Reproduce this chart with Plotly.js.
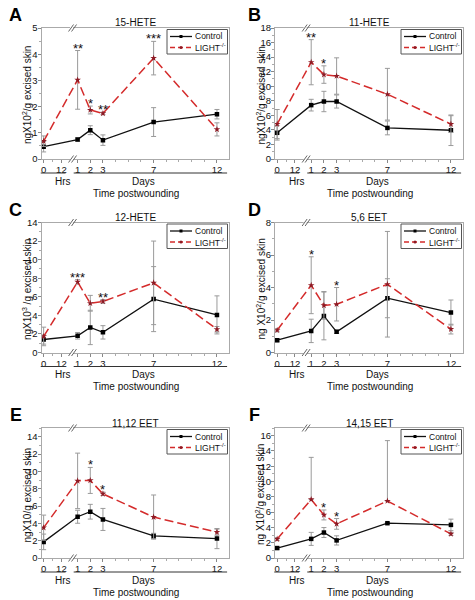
<!DOCTYPE html>
<html><head><meta charset="utf-8">
<script src="https://cdn.plot.ly/plotly-3.0.1.min.js"></script>
<style>html,body{margin:0;padding:0;background:#fff}#chart{width:475px;height:600px}</style>
</head><body><div id="chart"></div>
<script>
// ---------- data ----------
const timeUnits = ['h','d','d','d','d','d'];
const timeValues = [0, 1, 2, 3, 7, 12];
const hourTickValues = [0, 12];
const dayTickValues = [1, 2, 3, 7, 12];
const minorDayTicks = [4, 5, 6, 8, 9, 10, 11];
const seriesNames = ['Control', 'LIGHT<sup>-/-</sup>'];

const panelLetters = ['A','B','C','D','E','F'];
const panelTitles = ['15-HETE','11-HETE','12-HETE','5,6 EET','11,12 EET','14,15 EET'];
const yTitles = [
  'ngX10<sup>2</sup>/g excised skin',
  'ngX10<sup>2</sup>/g excised skin',
  'ngX10<sup>3</sup> /g excised skin',
  'ng X10<sup>2</sup>/g excised skin',
  'ngX10/g excised skin',
  'ng X10<sup>2</sup>/g excised skin'
];
const yMax = [5, 18, 14, 8, 15, 17];
const yStep = [1, 2, 2, 2, 2, 2];

// A: 15-HETE
const ctrlA = [0.47, 0.74, 1.10, 0.72, 1.41, 1.71];
const ctrlErrA = [0.20, 0.06, 0.17, 0.20, 0.55, 0.18];
const lightA = [0.68, 3.02, 1.87, 1.74, 3.85, 1.13];
const lightErrA = [0.20, 1.12, 0.15, 0.05, 0.64, 0.25];
const sigA = ['', '**', '*', '**', '***', ''];
// B: 11-HETE
const ctrlB = [3.6, 7.4, 7.9, 7.9, 4.27, 3.95];
const ctrlErrB = [1.0, 0.8, 1.4, 0.9, 0.95, 2.1];
const lightB = [4.8, 13.3, 11.6, 11.4, 8.9, 4.8];
const lightErrB = [2.0, 3.1, 1.2, 2.5, 3.55, 1.15];
const sigB = ['', '**', '*', '', '', ''];
// C: 12-HETE
const ctrlC = [1.4, 1.8, 2.7, 2.17, 5.75, 4.05];
const ctrlErrC = [0.5, 0.35, 1.85, 0.72, 3.5, 2.05];
const lightC = [1.73, 7.6, 5.3, 5.5, 7.5, 2.5];
const lightErrC = [1.0, 0.25, 0.85, 0.2, 4.5, 0.3];
const sigC = ['', '***', '', '**', '', ''];
// D: 5,6 EET
const ctrlD = [0.76, 1.33, 2.25, 1.27, 3.34, 2.46];
const ctrlErrD = [0.1, 0.72, 1.47, 0.1, 1.2, 0.77];
const lightD = [1.37, 4.14, 2.9, 2.97, 4.2, 1.44];
const lightErrD = [0.1, 1.75, 0.85, 1.03, 3.25, 0.3];
const sigD = ['', '*', '', '*', '', ''];
// E: 11,12 EET
const ctrlE = [1.86, 4.76, 5.34, 4.45, 2.55, 2.24];
const ctrlErrE = [0.9, 0.75, 0.85, 1.27, 0.3, 1.16];
const lightE = [3.5, 8.9, 8.95, 7.4, 4.72, 2.98];
const lightErrE = [1.45, 3.2, 1.5, 0.2, 2.55, 0.35];
const sigE = ['', '', '*', '*', '', ''];
// F: 14,15 EET
const ctrlF = [1.3, 2.5, 3.33, 2.3, 4.55, 4.33];
const ctrlErrF = [0.15, 0.85, 0.65, 0.6, 0.1, 0.75];
const lightF = [2.47, 7.66, 5.63, 4.46, 7.45, 3.16];
const lightErrF = [0.2, 5.5, 0.65, 0.7, 7.9, 0.2];
const lightErrMinusF = [0.2, 0, 0.65, 0.7, 0, 0.2];
const sigF = ['', '', '*', '*', '', ''];

const panels = [
  {ctrl: ctrlA, ctrlErr: ctrlErrA, light: lightA, lightErr: lightErrA, sig: sigA},
  {ctrl: ctrlB, ctrlErr: ctrlErrB, light: lightB, lightErr: lightErrB, sig: sigB},
  {ctrl: ctrlC, ctrlErr: ctrlErrC, light: lightC, lightErr: lightErrC, sig: sigC},
  {ctrl: ctrlD, ctrlErr: ctrlErrD, light: lightD, lightErr: lightErrD, sig: sigD},
  {ctrl: ctrlE, ctrlErr: ctrlErrE, light: lightE, lightErr: lightErrE, sig: sigE},
  {ctrl: ctrlF, ctrlErr: ctrlErrF, light: lightF, lightErr: lightErrF, lightErrMinus: lightErrMinusF, sig: sigF}
];

// ---------- styles ----------
const CTRL_COLOR = '#111', CTRL_MARK = '#000';
const LIGHT_COLOR = '#d42b2b', LIGHT_MARK = '#8e1a24';
const ERR_COLOR = '#9a9a9a';
const FONT = 'Liberation Sans, Arial, sans-serif';

// ---------- layout helpers (broken time axis) ----------
const HR_START = -1.68, HR_SCALE = 1.4 / 12, BREAK_POS = 0.68;
const X_RANGE = [-1.85, 12.95];
const pos = (u, v) => u === 'h' ? HR_START + v * HR_SCALE : v;
const xPos = timeValues.map((v, i) => pos(timeUnits[i], v));
const frac = p => (p - X_RANGE[0]) / (X_RANGE[1] - X_RANGE[0]);

const W = 475, H = 600;
const colPx = [[41.5, 229], [275, 463]];
const rowPx = [[28, 159], [222.5, 352.5], [428, 558]];

const data = [];
const layout = {
  width: W, height: H, margin: {l: 0, r: 0, t: 0, b: 0},
  paper_bgcolor: '#fff', plot_bgcolor: '#fff',
  font: {family: FONT, color: '#111', size: 9.5},
  showlegend: false, shapes: [], annotations: []
};

const tickVals = hourTickValues.map(h => pos('h', h)).concat(dayTickValues.map(d => pos('d', d)));
const tickText = hourTickValues.map(String).concat(dayTickValues.map(String));
const minorVals = [pos('h', 6)].concat(minorDayTicks);

panels.forEach((p, i) => {
  const n = i + 1, col = i % 2, row = Math.floor(i / 2);
  const xk = n === 1 ? 'xaxis' : 'xaxis' + n, yk = n === 1 ? 'yaxis' : 'yaxis' + n;
  const xid = n === 1 ? 'x' : 'x' + n, yid = n === 1 ? 'y' : 'y' + n;
  const xdom = xid + ' domain', ydom = yid + ' domain';
  const xd = [colPx[col][0] / W, colPx[col][1] / W];
  const yd = [1 - rowPx[row][1] / H, 1 - rowPx[row][0] / H];

  layout[xk] = {
    domain: xd, anchor: yid, range: X_RANGE, tickmode: 'array', tickvals: tickVals, ticktext: tickText,
    ticks: 'outside', ticklen: 3, tickcolor: '#888', showline: true, linecolor: '#aaa', linewidth: 1,
    mirror: true, zeroline: false, showgrid: false, tickfont: {size: 9.5, color: '#111'},
    ticklabelstandoff: -1,
    minor: {tickmode: 'array', tickvals: minorVals, ticks: 'outside', ticklen: 2, tickcolor: '#aaa', showgrid: false},
    fixedrange: true
  };
  layout[yk] = {
    domain: yd, anchor: xid, range: [0, yMax[i]], tick0: 0, dtick: yStep[i],
    ticks: 'outside', ticklen: 3, tickcolor: '#888', showline: true, linecolor: '#aaa', linewidth: 1,
    mirror: true, zeroline: false, showgrid: false, tickfont: {size: 9.5, color: '#111'},
    ticklabelstandoff: -2,
    minor: {dtick: yStep[i] / 2, ticks: 'outside', ticklen: 2, tickcolor: '#aaa', showgrid: false},
    fixedrange: true
  };

  data.push({
    type: 'scatter', mode: 'lines+markers', x: xPos, y: p.ctrl, name: seriesNames[0],
    xaxis: xid, yaxis: yid,
    line: {color: CTRL_COLOR, width: 1.3}, marker: {color: CTRL_MARK, size: 4.5, symbol: 'square'},
    error_y: {type: 'data', array: p.ctrlErr, color: ERR_COLOR, thickness: 1, width: 2.5}
  });
  const lightErrY = p.lightErrMinus
    ? {type: 'data', symmetric: false, array: p.lightErr, arrayminus: p.lightErrMinus, color: ERR_COLOR, thickness: 1, width: 2.5}
    : {type: 'data', array: p.lightErr, color: ERR_COLOR, thickness: 1, width: 2.5};
  data.push({
    type: 'scatter', mode: 'lines+markers', x: xPos, y: p.light, name: seriesNames[1],
    xaxis: xid, yaxis: yid,
    line: {color: LIGHT_COLOR, width: 1.5, dash: '9px,4px'}, marker: {color: LIGHT_MARK, size: 5, symbol: 'star'},
    error_y: lightErrY
  });

  // axis break "//" top and bottom
  [0, 1].forEach(yv => {
    layout.shapes.push({type: 'rect', xref: xdom, yref: ydom, xsizemode: 'pixel', ysizemode: 'pixel',
      xanchor: frac(BREAK_POS), yanchor: yv, x0: -3.5, x1: -0.5, y0: -1.5, y1: 1.5, fillcolor: '#fff', line: {width: 0}});
    [-5, -2].forEach(dx => {
      layout.shapes.push({type: 'line', xref: xdom, yref: ydom, xsizemode: 'pixel', ysizemode: 'pixel',
        xanchor: frac(BREAK_POS), yanchor: yv, x0: dx, x1: dx + 5, y0: -3.5, y1: 3.5, line: {color: '#666', width: 1}});
    });
  });
  // Hrs / Days underlines
  layout.shapes.push({type: 'line', xref: xdom, yref: ydom, ysizemode: 'pixel', yanchor: 0,
    x0: frac(-1.91), x1: frac(0.05), y0: -14, y1: -14, line: {color: '#333', width: 1}});
  layout.shapes.push({type: 'line', xref: xdom, yref: ydom, ysizemode: 'pixel', yanchor: 0,
    x0: frac(0.69), x1: frac(12.8), y0: -14, y1: -14, line: {color: '#333', width: 1}});

  // legend (drawn in the top-right corner of each panel)
  layout.shapes.push({type: 'rect', xref: xdom, yref: ydom, xsizemode: 'pixel', ysizemode: 'pixel',
    xanchor: 1, yanchor: 1, x0: -62, x1: -1.5, y0: -1.5, y1: -26, fillcolor: '#fff', line: {color: '#555', width: 1}});
  [[CTRL_COLOR, 'solid', -8.5], [LIGHT_COLOR, '5px,3px', -19.5]].forEach(([c, d, yy]) => {
    layout.shapes.push({type: 'line', xref: xdom, yref: ydom, xsizemode: 'pixel', ysizemode: 'pixel',
      xanchor: 1, yanchor: 1, x0: -59, x1: -37, y0: yy, y1: yy, line: {color: c, width: 1.3, dash: d}});
  });
  layout.shapes.push({type: 'rect', xref: xdom, yref: ydom, xsizemode: 'pixel', ysizemode: 'pixel',
    xanchor: 1, yanchor: 1, x0: -49.5, x1: -46.5, y0: -7, y1: -10, fillcolor: CTRL_MARK, line: {width: 0}});
  layout.shapes.push({type: 'circle', xref: xdom, yref: ydom, xsizemode: 'pixel', ysizemode: 'pixel',
    xanchor: 1, yanchor: 1, x0: -49.5, x1: -46.5, y0: -18, y1: -21, fillcolor: LIGHT_MARK, line: {width: 0}});

  const A = layout.annotations;
  A.push({xref: xdom, yref: ydom, x: 1, xshift: -36, y: 1, yshift: -8.5, xanchor: 'left', yanchor: 'middle',
    text: seriesNames[0], showarrow: false, font: {size: 8.5}});
  A.push({xref: xdom, yref: ydom, x: 1, xshift: -36, y: 1, yshift: -19.5, xanchor: 'left', yanchor: 'middle',
    text: seriesNames[1], showarrow: false, font: {size: 8.5}});

  A.push({xref: xdom, yref: ydom, x: frac(-0.94), y: 0, yshift: -22, yanchor: 'middle',
    text: 'Hrs', showarrow: false, font: {size: 10}});
  A.push({xref: xdom, yref: ydom, x: frac(6.2), y: 0, yshift: -22, yanchor: 'middle',
    text: 'Days', showarrow: false, font: {size: 10}});
  A.push({xref: xdom, yref: ydom, x: frac(5.6), y: 0, yshift: -34, yanchor: 'middle',
    text: 'Time postwounding', showarrow: false, font: {size: 10}});
  A.push({xref: xdom, yref: ydom, x: 0, xshift: -15, y: 0.5, yshift: -2, xanchor: 'center', yanchor: 'middle',
    text: yTitles[i], textangle: -90, showarrow: false, font: {size: 10}});
  A.push({xref: xdom, yref: ydom, x: 0.5, y: 1, yshift: 5, yanchor: 'middle',
    text: panelTitles[i], showarrow: false, font: {size: 10}});
  A.push({xref: xdom, yref: ydom, x: 0, xshift: col === 0 ? -26 : -21, y: 1, yshift: 13,
    xanchor: 'center', yanchor: 'middle', text: '<b>' + panelLetters[i] + '</b>', showarrow: false, font: {size: 18, color: '#000'}});
  p.sig.forEach((s, k) => {
    if (!s) return;
    const top = Math.max(p.ctrl[k] + p.ctrlErr[k], p.light[k] + p.lightErr[k]);
    A.push({xref: xid, yref: yid, x: xPos[k], y: top, yanchor: 'bottom', yshift: -7,
      text: s, showarrow: false, font: {size: 13, color: '#111'}});
  });
});

Plotly.newPlot('chart', data, layout, {staticPlot: true, displayModeBar: false});
</script></body></html>
